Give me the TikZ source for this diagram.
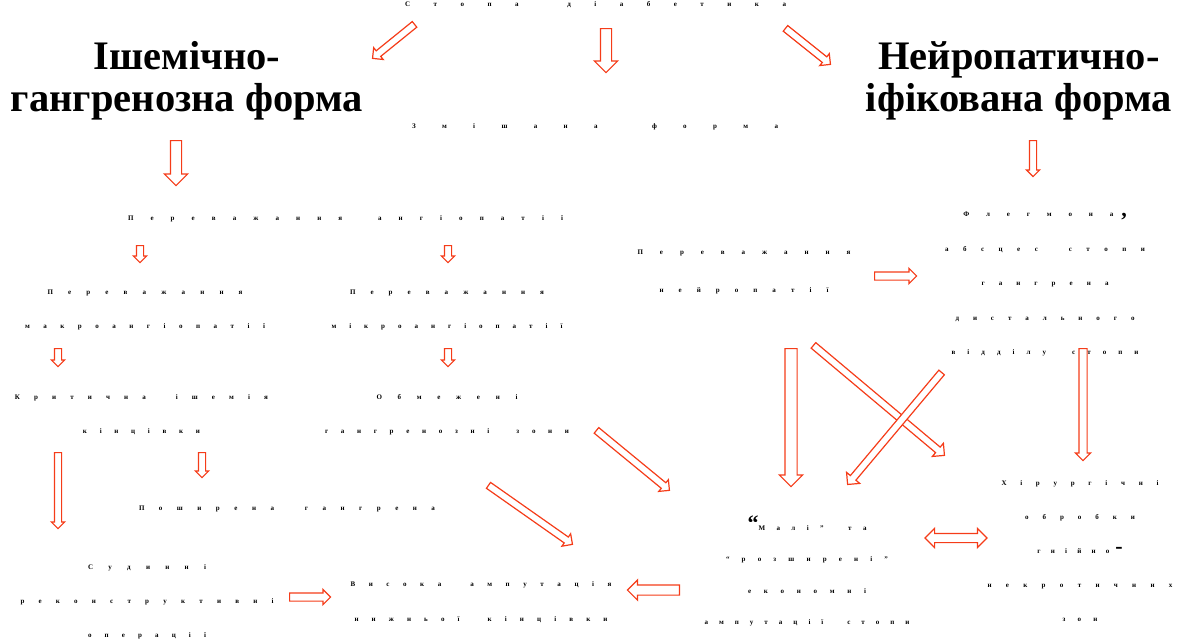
\documentclass[tikz,border=0pt]{standalone}
\usepackage{fontspec}
\setmainfont{Liberation Serif}
\usetikzlibrary{shapes.arrows, calc}

\definecolor{arrowred}{RGB}{245,60,25}

\ExplSyntaxOn
\NewDocumentCommand \spreadline { m m }
  { \makebox[#1pt][s]{ \str_map_inline:nn {#2} { ##1 \hfil } \unskip } }
\ExplSyntaxOff
\newcommand\bigsym[1]{{\fontsize{22}{22}\selectfont\bfseries #1}}

\begin{document}
\begin{tikzpicture}[
    x=1pt, y=-1pt,
    txt/.style={font=\fontsize{7}{#1}\selectfont\bfseries, align=center, inner sep=0pt},
    txt/.default=34,
    heading/.style={font=\fontsize{40.5}{42}\selectfont\bfseries, align=center, inner sep=0pt},
    hollow/.style 2 args={to path={let \p1=(\tikztostart), \p2=(\tikztotarget),
        \n1={atan2(\y2-\y1,\x2-\x1)}, \n2={veclen(\x2-\x1,\y2-\y1)} in
        node[single arrow, draw=arrowred, fill=white, line width=1.2pt, inner xsep=0pt,
             inner ysep=#1, single arrow head extend=#2, single arrow head indent=0pt,
             minimum height=\n2, rotate=\n1, anchor=tail] at (\p1) {}}},
    hollowtwo/.style 2 args={to path={let \p1=(\tikztostart), \p2=(\tikztotarget),
        \p3=($(\p1)!0.5!(\p2)$),
        \n1={atan2(\y2-\y1,\x2-\x1)}, \n2={veclen(\x2-\x1,\y2-\y1)} in
        node[double arrow, draw=arrowred, fill=white, line width=1.2pt, inner xsep=0pt,
             inner ysep=#1, double arrow head extend=#2, double arrow head indent=0pt,
             minimum height=\n2, rotate=\n1] at (\p3) {}}}
]
\useasboundingbox (0,0) rectangle (1184,641);

% top level
\node[txt] (stopa) at (595.5,5) {\spreadline{381}{Стопа діабетика}};
\node[heading] (isch) at (187,81) {Ішемічно-\\гангренозна форма};
\node[txt] (mixed) at (595,127) {\spreadline{366}{Змішана форма}};
\node[heading] (neuro) at (1019,81) {Нейропатично-\\іфікована форма};

% ischemic branch
\node[txt] (angio) at (345.5,219) {\spreadline{435}{Переважання ангіопатії}};
\node[txt] (macro) at (145,309.5) {\spreadline{195}{Переважання}\\\spreadline{240}{макроангіопатії}};
\node[txt] (micro) at (447,309.5) {\spreadline{194}{Переважання}\\\spreadline{231}{мікроангіопатії}};
\node[txt] (crit) at (141.5,414.5) {\spreadline{253}{Критична ішемія}\\\spreadline{117}{кінцівки}};
\node[txt] (local) at (447,414.5) {\spreadline{141}{Обмежені}\\\spreadline{244}{гангренозні зони}};
\node[txt] (wide) at (287,509) {\spreadline{296}{Поширена гангрена}};
\node[txt] (vasc) at (147,602) {\spreadline{118}{Судинні}\\\spreadline{253}{реконструктивні}\\\spreadline{118}{операції}};
\node[txt=35] (high) at (481,602.5) {\spreadline{261}{Висока ампутація}\\\spreadline{253}{нижньої кінцівки}};

% neuropathic branch
\node[txt=38] (neurop) at (744,272) {\spreadline{213}{Переважання}\\\spreadline{169}{нейропатії}};
\node[txt=34.5] (phleg) at (1045,284) {\spreadline{150}{Флегмона}\hspace{8pt}\bigsym{,}\\\spreadline{200}{абсцес стопи}\\\spreadline{127}{гангрена}\\\spreadline{179}{дистального}\\\spreadline{187}{відділу стопи}};
\node[txt=31.3] (minor) at (807,571) {\bigsym{“}\spreadline{108}{Малі” та}\\\spreadline{162}{“розширені”}\\\spreadline{118}{економні}\\\spreadline{205}{ампутації стопи}};
\node[txt] (surg) at (1080,551) {\spreadline{157}{Хірургічні}\\\spreadline{110}{обробки}\\\spreadline{72}{гнійно}\hspace{6pt}\bigsym{-}\\\spreadline{185}{некротичних}\\\spreadline{35}{зон}};

% arrow ends
\coordinate (stopa-l) at (415,24);   \coordinate (isch-t) at (373,58);
\coordinate (stopa-m) at (606,28);   \coordinate (mixed-t) at (606,72);
\coordinate (stopa-r) at (785,28);   \coordinate (neuro-t) at (830,64);
\coordinate (isch-b) at (176,140);   \coordinate (angio-t) at (176,185);
\coordinate (angio-l) at (140,245);  \coordinate (macro-t) at (140,262);
\coordinate (angio-r) at (448,245);  \coordinate (micro-t) at (448,262);
\coordinate (macro-b) at (58,348);   \coordinate (crit-t) at (58,366);
\coordinate (micro-b) at (448,348);  \coordinate (local-t) at (448,366);
\coordinate (crit-l) at (58,452);    \coordinate (vasc-t) at (58,528);
\coordinate (crit-r) at (202,452);   \coordinate (wide-t) at (202,477);
\coordinate (vasc-r) at (289,597);   \coordinate (high-l) at (330,597);
\coordinate (minor-l) at (680,590);  \coordinate (high-r) at (628,590);
\coordinate (wide-r) at (488,485);   \coordinate (high-t) at (572,544);
\coordinate (local-r) at (596,430);  \coordinate (minor-tl) at (669,490);
\coordinate (neurop-r) at (874,276); \coordinate (phleg-l) at (916,276);
\coordinate (neuro-b) at (1033,140); \coordinate (phleg-t) at (1033,176);
\coordinate (phleg-b) at (1083,348); \coordinate (surg-t) at (1083,460);
\coordinate (neurop-b) at (791,348); \coordinate (minor-t) at (791,486);
\coordinate (neurop-br) at (813,345); \coordinate (surg-tl) at (944,455);
\coordinate (phleg-bl) at (942,372); \coordinate (minor-tr) at (848,484);
\coordinate (minor-r) at (925,538);  \coordinate (surg-l) at (987,538);

% arrows
\path[hollow={3pt}{4pt}] (stopa-l) to (isch-t);
\path[hollow={5pt}{6pt}] (stopa-m) to (mixed-t);
\path[hollow={3pt}{4pt}] (stopa-r) to (neuro-t);
\path[hollow={5pt}{6pt}] (isch-b) to (angio-t);
\path[hollow={3pt}{3pt}] (angio-l) to (macro-t);
\path[hollow={3pt}{3pt}] (angio-r) to (micro-t);
\path[hollow={3pt}{3pt}] (macro-b) to (crit-t);
\path[hollow={3pt}{3pt}] (micro-b) to (local-t);
\path[hollow={3pt}{3pt}] (crit-l) to (vasc-t);
\path[hollow={3pt}{3pt}] (crit-r) to (wide-t);
\path[hollow={3.5pt}{3.5pt}] (vasc-r) to (high-l);
\path[hollow={4.5pt}{5pt}] (minor-l) to (high-r);
\path[hollow={3pt}{4pt}] (wide-r) to (high-t);
\path[hollow={3pt}{4pt}] (local-r) to (minor-tl);
\path[hollow={3.5pt}{3.5pt}] (neurop-r) to (phleg-l);
\path[hollow={3pt}{3pt}] (neuro-b) to (phleg-t);
\path[hollow={3.5pt}{3.5pt}] (phleg-b) to (surg-t);
\path[hollow={5.5pt}{5.5pt}] (neurop-b) to (minor-t);
\path[hollow={3pt}{5pt}] (neurop-br) to (surg-tl);
\path[hollow={3pt}{5pt}] (phleg-bl) to (minor-tr);
\path[hollowtwo={4pt}{5pt}] (minor-r) to (surg-l);
\end{tikzpicture}
\end{document}
